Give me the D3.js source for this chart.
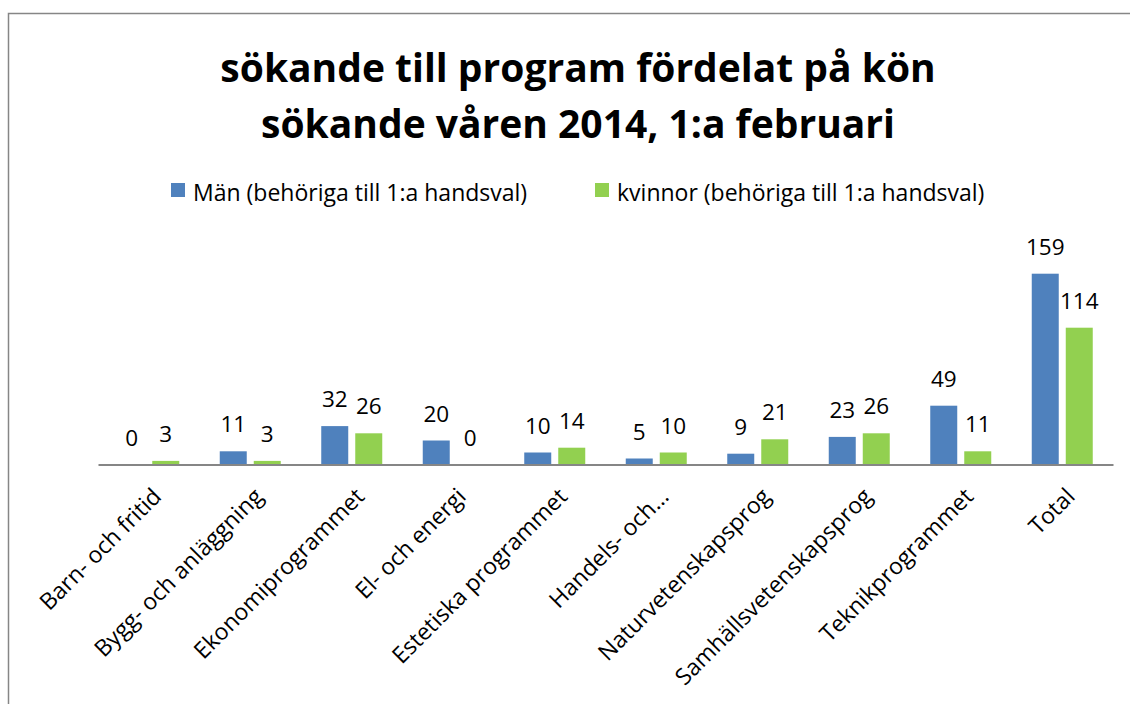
<!DOCTYPE html>
<html><head><meta charset="utf-8">
<script src="https://cdn.jsdelivr.net/npm/d3@7"></script>
<style>body{margin:0;background:#fff}svg{display:block}</style>
</head><body>
<svg id="c" width="1130" height="704"></svg>
<script>
const categories = ["Barn- och fritid","Bygg- och anläggning","Ekonomiprogrammet","El- och energi","Estetiska programmet","Handels- och…","Naturvetenskapsprog","Samhällsvetenskapsprog","Teknikprogrammet","Total"];
const seriesNames = ["Män (behöriga till 1:a handsval)","kvinnor (behöriga till 1:a handsval)"];
const menValues = [0,11,32,20,10,5,9,23,49,159];
const womenValues = [3,3,26,0,14,10,21,26,11,114];
const titleLines = ["sökande till program fördelat på kön","sökande våren 2014, 1:a februari"];
const colors = ["#4F81BD","#92D050"];

const svg = d3.select("#c");
const font = "'Open Sans', sans-serif";

// border
svg.append("path").attr("d","M8.5,704 L8.5,13.5 L1130,13.5").attr("fill","none").attr("stroke","#868686").attr("stroke-width",1.5);

// title
svg.selectAll("text.title").data(titleLines).enter().append("text")
  .attr("x",578).attr("y",(d,i)=>82+i*56).attr("text-anchor","middle")
  .attr("font-family",font).attr("font-weight","bold").attr("font-size",39).attr("fill","#000")
  .text(d=>d);

// legend
const legX = [171,595];
seriesNames.forEach((n,i)=>{
  svg.append("rect").attr("x",legX[i]).attr("y",183).attr("width",14).attr("height",14).attr("fill",colors[i]);
  svg.append("text").attr("x",legX[i]+22).attr("y",201).attr("font-family",font).attr("font-size",23).attr("fill","#000").text(n);
});

const x0 = d3.scaleBand().domain(categories).range([98,1113]);
const x1 = d3.scaleBand().domain([0,1]).range([-30.5,30.5]).paddingInner(0.206);
const y = d3.scaleLinear().domain([0,160]).range([464.5,272.5]);

const data = categories.map((c,i)=>({c, vals:[menValues[i],womenValues[i]]}));
const g = svg.append("g");
const groups = g.selectAll("g.grp").data(data).enter().append("g")
  .attr("transform",d=>`translate(${x0(d.c)+x0.bandwidth()/2},0)`);
groups.selectAll("rect").data(d=>d.vals.map((v,k)=>({v,k}))).enter().append("rect")
  .attr("x",d=>x1(d.k)).attr("width",x1.bandwidth())
  .attr("y",d=>y(d.v)).attr("height",d=>y(0)-y(d.v)).attr("fill",d=>colors[d.k]);
groups.selectAll("text").data(d=>d.vals.map((v,k)=>({v,k}))).enter().append("text")
  .attr("x",d=>x1(d.k)+x1.bandwidth()/2).attr("y",d=>y(d.v)-19)
  .attr("text-anchor","middle").attr("font-family",font).attr("font-size",22.5).attr("fill","#000")
  .text(d=>d.v);

// axis
const ax = svg.append("g").attr("transform","translate(0,464.5)").call(d3.axisBottom(x0).tickSize(0).tickFormat(""));
ax.select(".domain").attr("stroke","#868686").attr("stroke-width",2);
svg.selectAll("text.xl").data(categories).enter().append("text")
  .attr("transform",d=>`translate(${x0(d)+x0.bandwidth()/2+14},498) rotate(-45)`)
  .attr("text-anchor","end").attr("font-family",font).attr("font-size",23).attr("fill","#000")
  .text(d=>d);
</script>
</body></html>
